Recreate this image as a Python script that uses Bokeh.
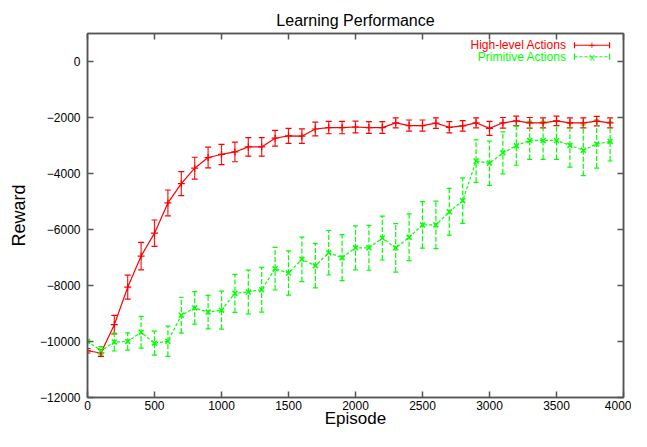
from bokeh.plotting import figure
from bokeh.models import (ColumnDataSource, Whisker, TeeHead, Label, Arrow,
                          LinearAxis, FixedTicker, Range1d)
from bokeh.embed import file_html
from bokeh.resources import INLINE

# ---------------- data ----------------
episodes = list(range(0, 4000, 100))
high_mean = [-10330, -10410, -9400, -8060, -6950, -6130, -5050, -4360, -3810, -3430,
             -3320, -3230, -3050, -3050, -2740, -2655, -2667, -2410, -2360, -2360,
             -2340, -2360, -2360, -2190, -2290, -2290, -2200, -2350, -2300, -2190,
             -2390, -2190, -2120, -2190, -2190, -2120, -2190, -2190, -2130, -2190]
high_err = [80, 120, 330, 430, 490, 470, 460, 430, 390, 370,
            360, 350, 330, 330, 280, 270, 260, 245, 220, 220,
            210, 210, 210, 180, 200, 200, 190, 200, 190, 180,
            250, 190, 170, 190, 180, 170, 180, 180, 170, 180]
prim_mean = [-9990, -10330, -10020, -10000, -9670, -10060, -9990, -9060, -8800, -8950,
             -8880, -8280, -8230, -8150, -7400, -7555, -7064, -7298, -6830, -7006,
             -6655, -6655, -6304, -6655, -6280, -5836, -5836, -5368, -4970, -3556,
             -3637, -3263, -3006, -2819, -2819, -2819, -2994, -3170, -2947, -2854]
prim_err = [60, 150, 320, 310, 570, 430, 540, 640, 580, 600,
            680, 680, 780, 800, 760, 790, 795, 790, 795, 820,
            785, 800, 785, 865, 835, 830, 850, 836, 813, 760,
            790, 750, 700, 680, 680, 680, 780, 906, 860, 700]
x_ticks = [0, 500, 1000, 1500, 2000, 2500, 3000, 3500, 4000]
y_ticks = [-12000, -10000, -8000, -6000, -4000, -2000, 0]
series_names = ["High-level Actions", "Primitive Actions"]
title_text = "Learning Performance"
x_label = "Episode"
y_label = "Reward"

FONT = "Liberation Sans"
RED = "#ff0000"
GREEN = "#00ff00"
FRAME = "#555555"

p = figure(width=631, height=431, output_backend="svg", toolbar_location=None,
           x_range=Range1d(0, 4000), y_range=Range1d(-12000, 1000),
           min_border_left=87, min_border_right=8, min_border_top=33,
           min_border_bottom=34)
p.grid.visible = False
p.outline_line_color = FRAME
p.outline_line_width = 1.5
p.background_fill_color = "white"
p.border_fill_color = "white"

p.title.text = title_text
p.title.text_font = FONT
p.title.text_font_size = "16px"
p.title.text_font_style = "normal"
p.title.text_color = "black"
p.title.align = "center"
p.title.standoff = 10

for ax in (p.xaxis[0], p.yaxis[0]):
    ax.axis_line_color = FRAME
    ax.axis_line_width = 1.5
    ax.major_tick_line_color = FRAME
    ax.major_tick_line_width = 1.5
    ax.major_tick_in = 6
    ax.major_tick_out = 0
    ax.minor_tick_line_color = None
    ax.major_label_text_font = FONT
    ax.major_label_text_font_size = "12px"
    ax.major_label_text_color = "black"
    ax.axis_label_text_font = FONT
    ax.axis_label_text_font_style = "normal"
    ax.axis_label_text_color = "black"
p.xaxis.ticker = FixedTicker(ticks=x_ticks)
p.yaxis.ticker = FixedTicker(ticks=y_ticks)
p.xaxis.major_label_standoff = 3
p.yaxis.major_label_standoff = 7
p.xaxis.axis_label = x_label
p.xaxis.axis_label_text_font_size = "17px"
p.xaxis.axis_label_standoff = -4
p.yaxis.axis_label = y_label
p.yaxis.axis_label_text_font_size = "18px"
p.yaxis.axis_label_standoff = 8

# mirrored tick marks on the right and top edges (no labels)
for side, ticks in (("right", y_ticks), ("above", x_ticks)):
    ax = LinearAxis(ticker=FixedTicker(ticks=ticks))
    ax.axis_line_color = FRAME
    ax.axis_line_width = 1.5
    ax.major_tick_line_color = FRAME
    ax.major_tick_line_width = 1.5
    ax.major_tick_in = 6
    ax.major_tick_out = 0
    ax.minor_tick_line_color = None
    ax.major_label_text_font_size = "0px"
    ax.major_label_text_color = None
    ax.major_label_standoff = 0
    p.add_layout(ax, side)

# ---------------- series ----------------
hs = ColumnDataSource(dict(x=episodes, y=high_mean,
                           lo=[m - e for m, e in zip(high_mean, high_err)],
                           hi=[m + e for m, e in zip(high_mean, high_err)]))
ps = ColumnDataSource(dict(x=episodes, y=prim_mean,
                           lo=[m - e for m, e in zip(prim_mean, prim_err)],
                           hi=[m + e for m, e in zip(prim_mean, prim_err)]))

p.add_layout(Whisker(source=hs, base="x", upper="hi", lower="lo",
                     line_color=RED, line_width=1.2, line_alpha=0.9,
                     upper_head=TeeHead(size=6, line_color=RED, line_width=1.2),
                     lower_head=TeeHead(size=6, line_color=RED, line_width=1.2)))
p.add_layout(Whisker(source=ps, base="x", upper="hi", lower="lo",
                     line_color=GREEN, line_width=1.2, line_dash="5 2",
                     upper_head=TeeHead(size=5, line_color=GREEN, line_width=1.2),
                     lower_head=TeeHead(size=5, line_color=GREEN, line_width=1.2)))

p.line("x", "y", source=hs, line_color=RED, line_width=1.2)
p.scatter("x", "y", source=hs, marker="cross", size=7, line_color=RED, line_width=1.2)
p.line("x", "y", source=ps, line_color=GREEN, line_width=1.2, line_dash="3 2")
p.scatter("x", "y", source=ps, marker="x", size=7, line_color=GREEN, line_width=1.5)

# ---------------- legend (gnuplot style: text, then sample), in data units ----------------
leg = [(series_names[0], RED, None, "+", 580), (series_names[1], GREEN, "3 2", "x", 170)]
for name, col, dash, mk, yy in leg:
    p.add_layout(Label(x=3575, y=yy, text=name, text_font=FONT, text_font_size="12px",
                       text_color=col, text_align="right", text_baseline="middle"))
    kw = dict(line_dash=dash) if dash else {}
    p.add_layout(Arrow(x_start=3634, y_start=yy, x_end=3896, y_end=yy,
                       line_color=col, line_width=1.2,
                       start=TeeHead(size=6, line_color=col, line_width=1.2),
                       end=TeeHead(size=6, line_color=col, line_width=1.2), **kw))
    p.add_layout(Label(x=3765, y=yy, text=mk, text_font=FONT, text_font_size="11px",
                       text_color=col, text_align="center", text_baseline="middle"))

open("out.html", "w").write(file_html(p, INLINE))
